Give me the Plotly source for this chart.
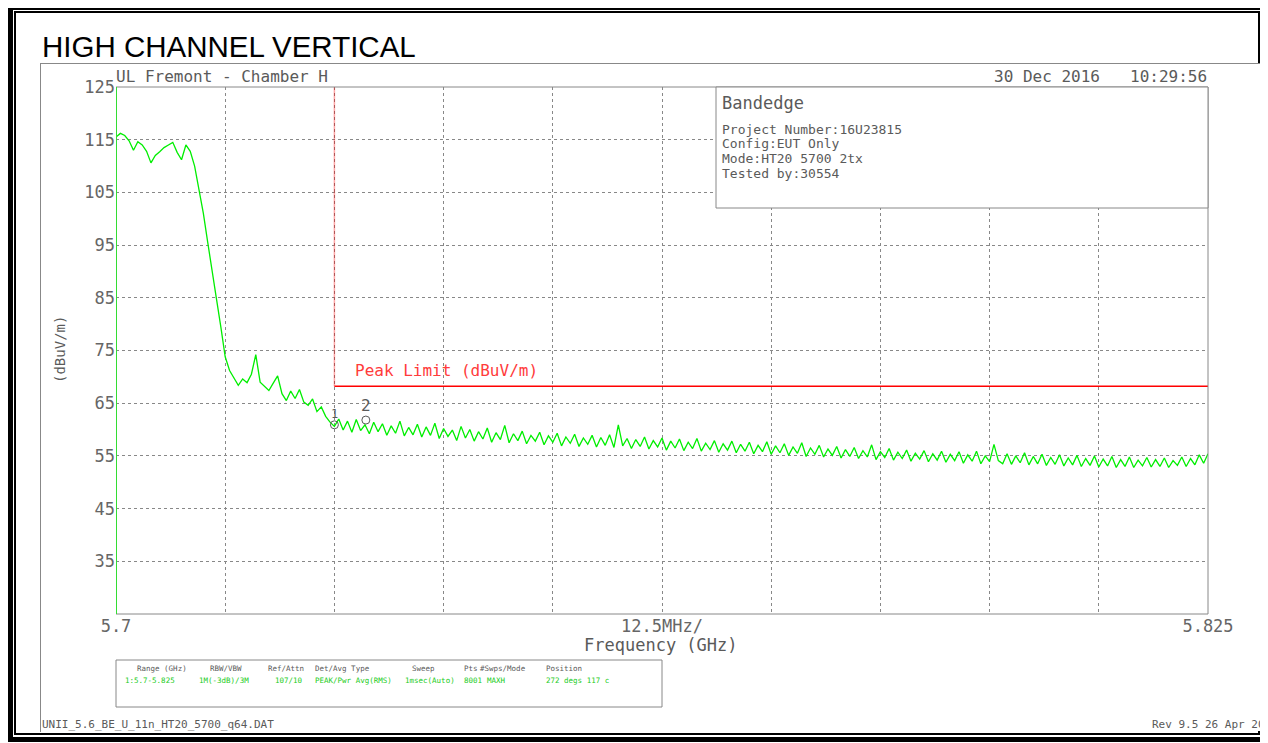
import numpy as np
import plotly.graph_objects as go

# sweep 5.700 - 5.825 GHz, every 0.5 MHz
freq_ghz = np.linspace(5.700, 5.825, 251)
level_dbuv = [
    115.5, 116.2, 115.8, 114.8, 113.0, 114.6, 114.0, 112.8, 110.6, 112.0,
    112.7, 113.5, 114.0, 114.5, 112.6, 111.2, 114.0, 112.8, 110.0, 105.5,
    101.0, 95.5, 90.5, 84.8, 79.5, 73.8, 71.2, 69.8, 68.4, 69.6,
    68.9, 70.5, 74.2, 69.0, 68.2, 67.4, 68.8, 70.2, 66.8, 65.5,
    67.3, 65.9, 67.6, 65.2, 64.6, 65.8, 63.4, 64.3, 62.5, 61.4,
    60.6, 62.0, 59.9, 61.6, 59.5, 61.9, 59.8, 60.9, 59.2, 61.4,
    59.6, 61.1, 58.9, 60.7, 59.3, 61.6, 58.8, 60.4, 59.0, 61.0,
    58.6, 60.5, 58.9, 61.2, 58.3, 60.2, 58.7, 59.9, 57.9, 60.6,
    58.4, 60.0, 57.8, 59.6, 58.2, 60.3, 57.6, 59.4, 58.1, 60.8,
    57.5, 59.2, 57.9, 59.7, 57.3, 58.9, 57.8, 59.5, 57.1, 58.8,
    57.6, 59.3, 56.9, 58.6, 57.4, 59.1, 56.8, 58.4, 57.2, 58.9,
    56.7, 58.5, 57.0, 59.0, 56.6, 60.9, 56.9, 58.3, 56.4, 58.1,
    56.8, 58.6, 56.3, 57.9, 56.7, 58.4, 56.1, 57.8, 56.5, 58.2,
    56.0, 57.6, 56.4, 58.3, 55.9, 57.4, 56.2, 57.9, 55.7, 57.3,
    56.1, 57.8, 55.6, 57.2, 55.9, 57.6, 55.4, 57.0, 55.8, 57.7,
    55.3, 56.9, 55.6, 57.3, 55.1, 56.7, 55.5, 57.5, 54.9, 56.5,
    55.3, 57.0, 54.8, 56.3, 55.1, 56.8, 54.6, 56.2, 54.9, 56.6,
    54.5, 56.0, 54.8, 57.1, 54.3, 55.8, 54.7, 56.4, 54.2, 55.7,
    54.5, 56.1, 54.0, 55.5, 54.4, 56.0, 53.9, 55.4, 54.2, 55.9,
    53.8, 55.3, 54.1, 55.8, 53.6, 55.2, 54.0, 55.9, 53.5, 55.0,
    53.9, 57.2, 54.1, 53.5, 55.4, 53.4, 55.0, 53.7, 55.6, 53.3,
    54.9, 53.5, 55.3, 53.2, 54.7, 53.4, 55.2, 53.1, 54.6, 53.3,
    55.1, 53.0, 54.5, 53.2, 55.0, 52.9, 54.4, 53.1, 54.9, 52.8,
    54.3, 53.0, 54.8, 52.8, 54.2, 53.1, 54.7, 52.9, 54.3, 53.0,
    54.6, 52.8, 54.1, 53.2, 54.8, 53.0, 54.5, 53.3, 55.2, 53.6,
    55.4,
]

limit_edge_ghz = 5.725
limit_dbuv = 68.2
marker_ids = ["1", "2"]
marker_freq = [5.725, 5.7286]
marker_level = [60.9, 61.8]

x_ticks = [5.7 + 0.0125 * i for i in range(11)]
x_ticktext = ["5.7", "", "", "", "", "12.5MHz/", "", "", "", "", "5.825"]
y_ticks = [25, 35, 45, 55, 65, 75, 85, 95, 105, 115, 125]
y_ticktext = ["", "35", "45", "55", "65", "75", "85", "95", "105", "115", "125"]

info_lines = ["Project Number:16U23815", "Config:EUT Only", "Mode:HT20 5700 2tx", "Tested by:30554"]
table_head = ["Range (GHz)", "RBW/VBW", "Ref/Attn", "Det/Avg Type", "Sweep", "Pts", "#Swps/Mode", "Position"]
table_vals = ["1:5.7-5.825", "1M(-3dB)/3M", "107/10", "PEAK/Pwr Avg(RMS)", "1msec(Auto)", "8001", "MAXH", "272 degs 117 c"]

GRAY = "#5a5a5a"
LGRAY = "#888888"
MONO = "DejaVu Sans Mono"

# page offset of the figure inside the html body
OFF = 8
W, H = 1268 - OFF, 743 - OFF
L, R, T, B = 116, 1208, 87, 614   # plot area in screen pixels


def px(x):
    return (x - L) / (R - L)


def py(y):
    return (B - y) / (B - T)


fig = go.Figure()

fig.add_trace(go.Scatter(
    x=[limit_edge_ghz, limit_edge_ghz], y=[125, limit_dbuv],
    mode="lines", line=dict(color="rgba(255,0,0,0.35)", width=1.5),
    hoverinfo="skip", showlegend=False,
))
fig.add_trace(go.Scatter(
    x=[limit_edge_ghz, 5.825], y=[limit_dbuv, limit_dbuv],
    mode="lines", line=dict(color="#ff0000", width=1.5),
    name="Peak Limit", showlegend=False,
))
fig.add_trace(go.Scatter(
    x=freq_ghz, y=level_dbuv,
    mode="lines", line=dict(color="#00ee00", width=1.3),
    name="Trace", showlegend=False,
))
fig.add_trace(go.Scatter(
    x=marker_freq, y=marker_level,
    mode="markers", marker=dict(symbol="circle-open", size=8, color=GRAY, line=dict(width=1)),
    showlegend=False,
))

shapes = []


def box(x0, y0, x1, y1, fill=None, line=None, width=1, layer="above"):
    shapes.append(dict(type="rect", xref="paper", yref="paper",
                       x0=px(x0), x1=px(x1), y0=py(y1), y1=py(y0),
                       fillcolor=fill if fill else "rgba(0,0,0,0)",
                       line=dict(color=line if line else "rgba(0,0,0,0)", width=width if line else 0),
                       layer=layer))


def seg(x0, y0, x1, y1, color=LGRAY, width=1, layer="above"):
    shapes.append(dict(type="line", xref="paper", yref="paper",
                       x0=px(x0), x1=px(x1), y0=py(y0), y1=py(y1),
                       line=dict(color=color, width=width), layer=layer))


# black double frame
box(7, 4, 1268, 742, fill="black", layer="below")
box(13, 10, 1263, 737, fill="white", layer="below")
box(14, 11, 1261, 735, fill="black", layer="below")
box(16, 13, 1258, 733, fill="white", layer="below")
# gray panel
box(40, 63, 1270, 731, fill="white", layer="below")
seg(40, 63.5, 1268, 63.5, layer="below")
seg(40.5, 63, 40.5, 732, layer="below")
# plot frame
seg(116, 87, 1208, 87)
seg(116, 614, 1208, 614)
seg(1208, 87, 1208, 614)
seg(116.5, 87, 116.5, 614, color="#33dd33")
# info box and settings table
box(716, 87, 1208, 208, fill="white", line=LGRAY)
box(116, 660, 662, 707, line=LGRAY)

ann = []
for mid, mf, ml in zip(marker_ids, marker_freq, marker_level):
    ann.append(dict(x=mf, y=ml, xref="x", yref="y", text=mid, showarrow=False,
                    yshift=15 if mid == "2" else 11,
                    font=dict(family=MONO, size=16 if mid == "2" else 12, color=GRAY)))


def text(x, y, s, size, color=GRAY, family=MONO, xanchor="left", angle=0):
    ann.append(dict(x=px(x), y=py(y), xref="paper", yref="paper", text=s, showarrow=False,
                    xanchor=xanchor, yanchor="middle", textangle=angle,
                    font=dict(family=family, size=size, color=color)))


text(40, 47, "HIGH CHANNEL VERTICAL", 29.5, color="black", family="Liberation Sans")
text(114, 76, "UL Fremont - Chamber H", 16)
text(1102, 76, "30 Dec 2016", 16, xanchor="right")
text(1209, 76, "10:29:56", 16, xanchor="right")
text(720, 103, "Bandedge", 17)
for i, line in enumerate(info_lines):
    text(720, 129 + i * 14.7, line, 13)
text(353, 370, "Peak Limit (dBuV/m)", 16, color="#ff3b3b")
text(60, 350, "(dBuV/m)", 14, xanchor="center", angle=-90)
text(661, 645, "Frequency (GHz)", 17, xanchor="center")
head_x = [135, 208, 266, 313, 410, 462, 478, 544]
val_x = [123, 197, 273, 313, 403, 462, 485, 544]
for hx, h in zip(head_x, table_head):
    text(hx, 668, h, 7.5)
for vx, v in zip(val_x, table_vals):
    text(vx, 680, v, 7.5, color="#22cc22")
text(40, 724, "UNII_5.6_BE_U_11n_HT20_5700_q64.DAT", 11)
text(1267, 724, "Rev 9.5 26 Apr 20", 11, xanchor="right")

fig.update_layout(
    width=W, height=H,
    margin=dict(l=L - OFF, r=W - (R - OFF), t=T - OFF, b=H - (B - OFF)),
    paper_bgcolor="white", plot_bgcolor="rgba(0,0,0,0)",
    shapes=shapes, annotations=ann, showlegend=False,
    xaxis=dict(range=[5.7, 5.825], tickmode="array", tickvals=x_ticks, ticktext=x_ticktext,
               showgrid=True, gridcolor=LGRAY, griddash="dot", gridwidth=1,
               zeroline=False, showline=False, ticks="",
               tickfont=dict(family=MONO, size=17, color="#666666")),
    yaxis=dict(range=[25, 125], tickmode="array", tickvals=y_ticks, ticktext=y_ticktext,
               showgrid=True, gridcolor=LGRAY, griddash="dot", gridwidth=1,
               zeroline=False, showline=False, ticks="",
               tickfont=dict(family=MONO, size=17, color="#666666")),
)

fig.write_html("out.html")
